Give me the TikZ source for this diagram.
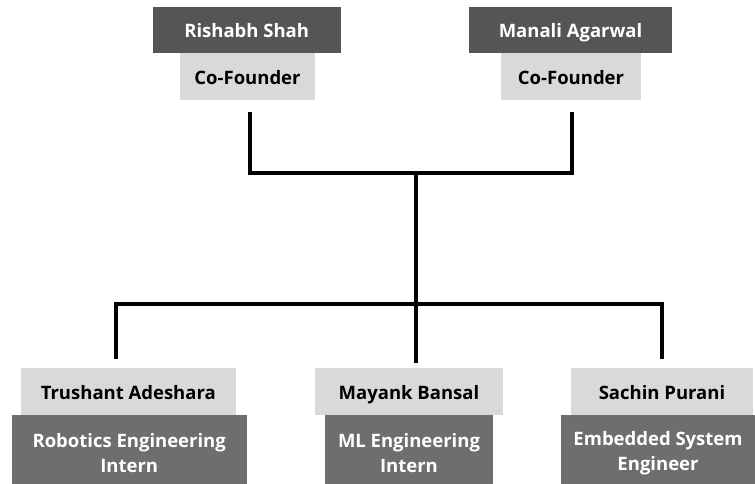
\documentclass[tikz,border=0pt]{standalone}
\usepackage{fontspec}
\setmainfont{Open Sans}
\definecolor{topdark}{HTML}{555555}
\definecolor{lightbox}{HTML}{D9D9D9}
\definecolor{botdark}{HTML}{6E6E6E}
\begin{document}
\begin{tikzpicture}[x=1pt,y=-1pt,
  box/.style={rectangle,inner sep=0pt,font=\fontsize{18.5}{25}\selectfont\bfseries,align=center},
  onel/.style={text height=15pt,text depth=0pt},
  namedark/.style={box,onel,fill=topdark,text=white,minimum height=46pt},
  rolelight/.style={box,onel,fill=lightbox,text=black,minimum height=47pt},
  botrole/.style={box,fill=botdark,text=white,minimum height=77pt},
  conn/.style={draw=black,line width=3.5pt}]
\useasboundingbox (0,0) rectangle (755,483);
% top
\node[namedark,minimum width=188pt] (rs) at (246.7,30) {Rishabh Shah};
\node[rolelight,minimum width=135pt] (rsr) at (247.5,76.5) {Co-Founder};
\node[namedark,minimum width=203pt] (ma) at (570.5,30) {Manali Agarwal};
\node[rolelight,minimum width=140pt] (mar) at (571,76.5) {Co-Founder};
% bottom
\node[rolelight,minimum width=215pt] (ta) at (128.3,391.5) {Trushant Adeshara};
\node[botrole,minimum width=235pt] (tar) at (129.2,453.5) {Robotics Engineering\\Intern};
\node[rolelight,minimum width=188pt] (mb) at (409,391.5) {Mayank Bansal};
\node[botrole,minimum width=168pt] (mbr) at (409,453.5) {ML Engineering\\Intern};
\node[rolelight,minimum width=182pt] (sp) at (662,391.5) {Sachin Purani};
\node[botrole,minimum width=194pt] (spr) at (658,453.5) {Embedded System\\Engineer};
% connector points
\coordinate (a1) at (250,112);
\coordinate (a2) at (572,112);
\coordinate (j1) at (416,173);
\coordinate (j2) at (416,304);
\coordinate (b1) at (116,359);
\coordinate (b2) at (416,363);
\coordinate (b3) at (662,359);
\draw[conn] (a1) |- (j1) -| (a2);
\draw[conn] (j1) -- (b2);
\draw[conn] (b1) |- (j2) -| (b3);
\end{tikzpicture}
\end{document}
